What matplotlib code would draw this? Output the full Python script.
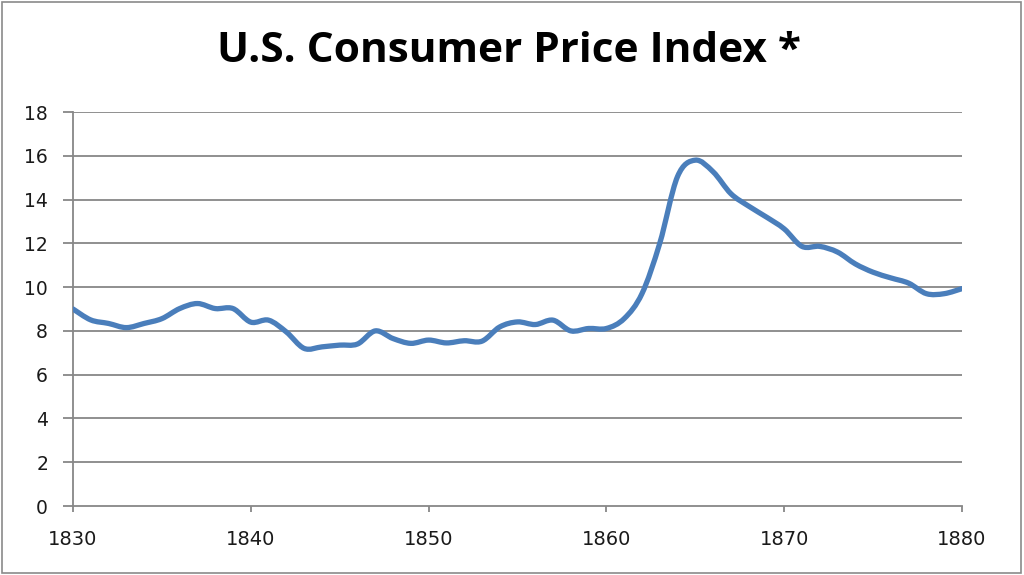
import numpy as np
import matplotlib
matplotlib.use("Agg")
import matplotlib.pyplot as plt
from matplotlib.path import Path
from matplotlib.patches import PathPatch, Rectangle

years = list(range(1830, 1881))
cpi = [9.0, 8.5, 8.34, 8.15, 8.34, 8.56, 9.02, 9.25, 9.02, 9.02,
       8.4, 8.49, 7.95, 7.2, 7.27, 7.35, 7.4, 8.0, 7.65, 7.43,
       7.58, 7.45, 7.55, 7.53, 8.18, 8.41, 8.29, 8.49, 8.0, 8.11,
       8.11, 8.56, 9.7, 12.0, 15.05, 15.8, 15.27, 14.27, 13.7, 13.2,
       12.66, 11.86, 11.86, 11.6, 11.06, 10.68, 10.42, 10.18, 9.7, 9.7,
       9.93]
title = "U.S. Consumer Price Index *"
x_ticks = [1830, 1840, 1850, 1860, 1870, 1880]
y_ticks = [0, 2, 4, 6, 8, 10, 12, 14, 16, 18]

W, H = 1024, 575
fig = plt.figure(figsize=(W / 100, H / 100), dpi=100)
fig.patch.set_facecolor("white")

ax = fig.add_axes([73 / W, (H - 506) / H, (962 - 73) / W, (506 - 112) / H])
ax.set_xlim(1830, 1880)
ax.set_ylim(0, 18)

grid_c = "#878787"
for t in y_ticks[1:]:
    ax.axhline(t, color=grid_c, lw=1.3, zorder=1)

# smooth line (Excel-style Bezier through data points)
x = np.array(years, dtype=float)
y = np.array(cpi, dtype=float)
verts = [(x[0], y[0])]
codes = [Path.MOVETO]
n = len(x)
for i in range(n - 1):
    p0 = np.array([x[i - 1], y[i - 1]]) if i > 0 else np.array([x[i], y[i]])
    p1 = np.array([x[i], y[i]])
    p2 = np.array([x[i + 1], y[i + 1]])
    p3 = np.array([x[i + 2], y[i + 2]]) if i + 2 < n else p2
    c1 = p1 + (p2 - p0) / 6.0
    c2 = p2 - (p3 - p1) / 6.0
    verts += [tuple(c1), tuple(c2), tuple(p2)]
    codes += [Path.CURVE4] * 3
patch = PathPatch(Path(verts, codes), facecolor="none", edgecolor="#4a7ebb",
                  lw=3.8, capstyle="round", joinstyle="round", zorder=3)
ax.add_patch(patch)

for s in ["top", "right"]:
    ax.spines[s].set_visible(False)
for s in ["left", "bottom"]:
    ax.spines[s].set_color(grid_c)
    ax.spines[s].set_linewidth(1.3)

ax.set_xticks(x_ticks)
ax.set_yticks(y_ticks)
ax.tick_params(axis="y", direction="out", length=7, width=1.3, color=grid_c,
               labelsize=13.5, labelcolor="#1a1a1a", pad=11)
ax.tick_params(axis="x", direction="out", length=4.5, width=1.3, color=grid_c,
               labelsize=14, labelcolor="#1a1a1a", pad=12.5)
for lab in ax.get_xticklabels() + ax.get_yticklabels():
    lab.set_family("DejaVu Sans")

fig.text(509 / W, 1 - 51 / H, title, ha="center", va="center",
         fontsize=30.5, fontweight="bold", family=["Open Sans", "DejaVu Sans"],
         color="black")

fig.add_artist(Rectangle((1.5 / W, 2 / H), (1021 - 1.5) / W, (573 - 2) / H,
                         transform=fig.transFigure, fill=False,
                         edgecolor="#8a8a8a", lw=1.2))

fig.savefig("out.png", dpi=100)
